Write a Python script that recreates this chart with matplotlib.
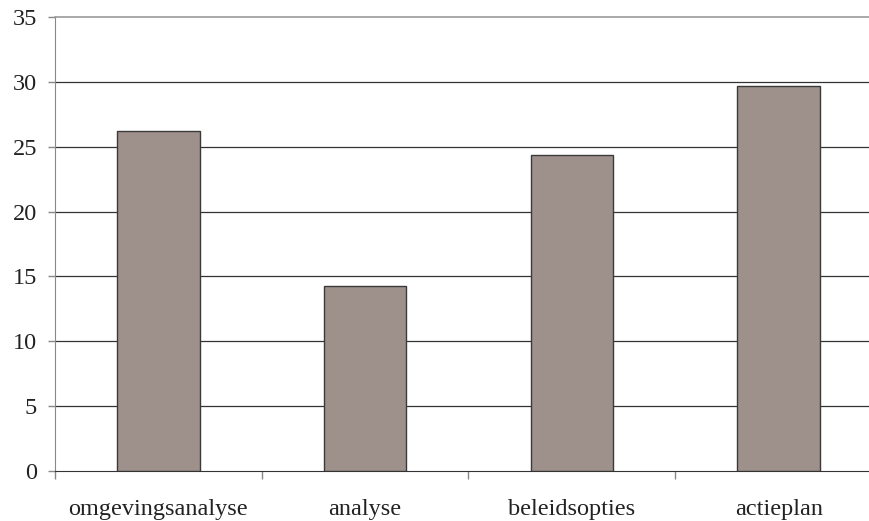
import matplotlib.pyplot as plt
import numpy as np

categories = ['omgevingsanalyse', 'analyse', 'beleidsopties', 'actieplan']
values = [26.2, 14.3, 24.4, 29.7]
yticks = [0, 5, 10, 15, 20, 25, 30, 35]

plt.rcParams['font.family'] = ['Liberation Serif', 'DejaVu Serif']

fig = plt.figure(figsize=(8.7, 5.21), dpi=100)
# right edge of the plot area sits just outside the picture
ax = fig.add_axes([0.0632, 0.0965, 0.9506, 0.870])

x = np.arange(len(categories))
ax.bar(x, values, width=0.40, color='#9e918c', edgecolor='#3a3a3a',
       linewidth=1.0, zorder=3)

ax.set_xlim(-0.5, len(categories) - 0.5)
ax.set_ylim(0, 35)
ax.set_yticks(yticks)
ax.set_yticklabels([str(t) for t in yticks])

for t in yticks[1:-1]:
    ax.axhline(t, color='#333333', linewidth=0.9, zorder=1)

ax.set_xticks(x)
ax.set_xticklabels(categories)
ax.set_xticks(np.arange(len(categories) + 1) - 0.5, minor=True)
ax.tick_params(axis='x', which='major', length=0, pad=20, labelsize=17.5,
               labelcolor='#222222')
ax.tick_params(axis='x', which='minor', length=6, width=1.0, color='#888888')
ax.tick_params(axis='y', length=5, width=1.0, color='#888888', pad=8,
               labelsize=17.5, labelcolor='#222222')

ax.spines['right'].set_visible(False)
ax.spines['top'].set_color('#999999')
ax.spines['top'].set_linewidth(1.2)
ax.spines['left'].set_color('#888888')
ax.spines['bottom'].set_color('#333333')

fig.savefig('out.png', dpi=100)
